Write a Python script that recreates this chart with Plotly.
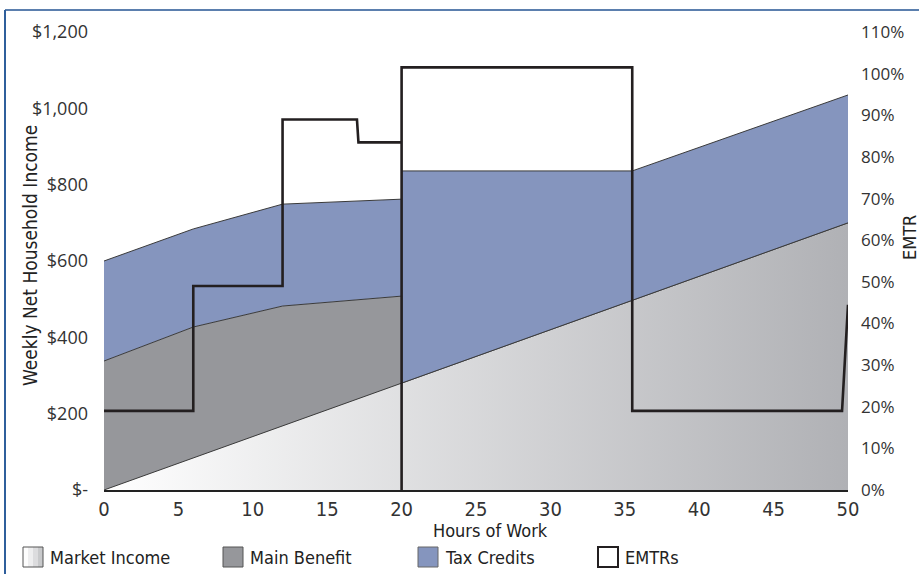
import plotly.graph_objects as go

# ---- data ----
hours = [0, 6, 12, 20, 20, 35.5, 50]
market_income = [0, 84, 168, 280, 280, 497, 700]
main_benefit = [338, 343, 314, 228, 0, 0, 0]
tax_credits = [262, 257, 267, 254, 556, 339, 335]

emtr_hours = [0, 6, 6, 12, 12, 17, 17.1, 20, 20, 20, 35.5, 35.5, 49.6, 50]
emtr_pct = [19, 19, 49, 49, 89, 89, 83.5, 83.5, 0, 101.5, 101.5, 19, 19, 44.5]

x_ticks = [0, 5, 10, 15, 20, 25, 30, 35, 40, 45, 50]
y_ticks = [0, 200, 400, 600, 800, 1000, 1200]
y_labels = ["$-", "$200", "$400", "$600", "$800", "$1,000", "$1,200"]
y2_ticks = list(range(0, 111, 10))
y2_labels = [f"{v}%" for v in y2_ticks]

legend_names = ["Market Income", "Main Benefit", "Tax Credits", "EMTRs"]

# cumulative stacks
lvl1 = market_income
lvl2 = [a + b for a, b in zip(lvl1, main_benefit)]
lvl3 = [a + b for a, b in zip(lvl2, tax_credits)]

EDGE = "#3a3a3a"
NARROW = "Liberation Sans Narrow, DejaVu Sans Condensed, Arial Narrow, sans-serif"
WIDE = "Open Sans, DejaVu Sans, sans-serif"

W, H = 919, 574
L, R, T, B = 104, 71, 32, 84
PW, PH = W - L - R, H - T - B


def px(x):
    return (x - L) / PW


def py(y):
    return (H - B - y) / PH


fig = go.Figure()
fig.add_trace(go.Scatter(
    x=hours, y=lvl1, name=legend_names[0], mode="lines",
    line=dict(color=EDGE, width=1), fill="tozeroy",
    fillgradient=dict(type="horizontal",
                      colorscale=[[0, "#ffffff"], [1, "#b0b1b5"]]),
))
fig.add_trace(go.Scatter(
    x=hours, y=lvl2, name=legend_names[1], mode="lines",
    line=dict(color=EDGE, width=1), fill="tonexty", fillcolor="#96979b",
))
fig.add_trace(go.Scatter(
    x=hours, y=lvl3, name=legend_names[2], mode="lines",
    line=dict(color=EDGE, width=1), fill="tonexty", fillcolor="#8595be",
))
fig.add_trace(go.Scatter(
    x=emtr_hours, y=emtr_pct, name=legend_names[3], mode="lines", yaxis="y2",
    line=dict(color="#231f20", width=2.6),
))

# ---- manual legend (boxes + labels) ----
shapes = []
annotations = []
box_x = [23, 223, 418, 598]
box_fill = ["#dcdcde", "#96979b", "#8595be", "white"]
box_line = ["#555", "#555", "#666", "#231f20"]
box_lw = [1, 1, 1, 2]
by0, by1 = 567, 547
for i, name in enumerate(legend_names):
    x0 = box_x[i]
    if i == 0:
        grad = ["#fdfdfd", "#eeeeef", "#dcdcde", "#c8c9cb"]
        for k, c in enumerate(grad):
            shapes.append(dict(type="rect", xref="paper", yref="paper",
                               x0=px(x0 + 5 * k), x1=px(x0 + 5 * (k + 1)),
                               y0=py(by0), y1=py(by1),
                               fillcolor=c, line=dict(width=0)))
        shapes.append(dict(type="rect", xref="paper", yref="paper",
                           x0=px(x0), x1=px(x0 + 20), y0=py(by0), y1=py(by1),
                           line=dict(color=box_line[i], width=box_lw[i])))
    else:
        shapes.append(dict(type="rect", xref="paper", yref="paper",
                           x0=px(x0), x1=px(x0 + 20), y0=py(by0), y1=py(by1),
                           fillcolor=box_fill[i],
                           line=dict(color=box_line[i], width=box_lw[i])))
    annotations.append(dict(text=name, xref="paper", yref="paper",
                            x=px(x0 + 25), y=py(557), xanchor="left",
                            yanchor="middle", showarrow=False,
                            font=dict(family=NARROW, size=18, color="#222")))

annotations += [
    dict(text="Hours of Work", xref="paper", yref="paper", x=px(490), y=py(530),
         xanchor="center", yanchor="middle", showarrow=False,
         font=dict(family=NARROW, size=18, color="#222")),
    dict(text="Weekly Net Household Income", xref="paper", yref="paper",
         x=px(30), y=py(256), showarrow=False, textangle=-90,
         xanchor="center", yanchor="middle",
         font=dict(family=NARROW, size=19, color="#222")),
    dict(text="EMTR", xref="paper", yref="paper", x=px(909), y=py(238),
         showarrow=False, textangle=-90, xanchor="center", yanchor="middle",
         font=dict(family=NARROW, size=18, color="#222")),
]

shapes += [
    dict(type="line", xref="paper", yref="paper", x0=px(5), x1=px(919),
         y0=py(10), y1=py(10), line=dict(color="#5b7fae", width=2)),
    dict(type="line", xref="paper", yref="paper", x0=px(5), x1=px(5),
         y0=py(10), y1=py(574), line=dict(color="#2f5f9c", width=2)),
]

fig.update_layout(
    width=W, height=H,
    margin=dict(l=L, r=R, t=T, b=B),
    plot_bgcolor="white", paper_bgcolor="white",
    showlegend=False,
    xaxis=dict(range=[0, 50], tickvals=x_ticks, showgrid=False, zeroline=False,
               showline=True, linecolor="#222", linewidth=1.5,
               ticks="", ticklabelstandoff=0,
               tickfont=dict(family=NARROW, size=20, color="#333")),
    yaxis=dict(range=[0, 1200], tickvals=y_ticks, ticktext=y_labels,
               showgrid=False, zeroline=False, showline=False,
               ticklabelstandoff=15,
               tickfont=dict(family=WIDE, size=18, color="#333")),
    yaxis2=dict(range=[0, 110], tickvals=y2_ticks, ticktext=y2_labels,
                overlaying="y", side="right", showgrid=False, zeroline=False,
                showline=False, ticklabelstandoff=12,
                tickfont=dict(family=WIDE, size=17, color="#333")),
    annotations=annotations,
    shapes=shapes,
)

fig.write_html("out.html", config={"displayModeBar": False},
               post_script="document.body.style.margin='0';document.body.style.overflow='hidden';")
